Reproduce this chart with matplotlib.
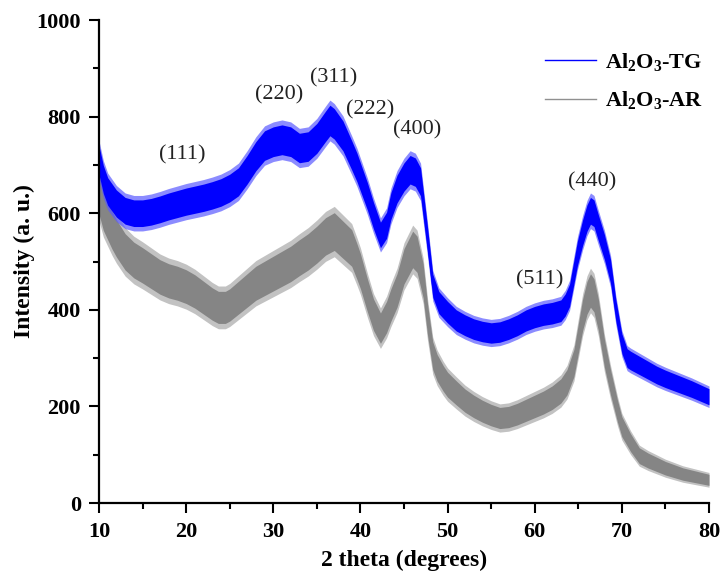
import numpy as np
import matplotlib
matplotlib.use('Agg')
import matplotlib.pyplot as plt
from matplotlib.lines import Line2D

plt.rcParams['font.family'] = ['Liberation Serif', 'DejaVu Serif']
plt.rcParams['mathtext.fontset'] = 'custom'
plt.rcParams['mathtext.rm'] = 'Liberation Serif:bold'
plt.rcParams['mathtext.default'] = 'rm'

# Al2O3-TG (blue), mean of the noisy trace
tg_x = [10, 10.5, 11, 12, 13, 14, 15, 16, 17, 18, 19, 20, 21, 22, 23, 24, 25, 26, 27, 28,
        29, 30, 31, 32, 33, 34, 35, 36, 36.5, 37, 38, 39, 39.6, 40.8, 41.5, 42.3, 43, 43.5,
        44.2, 45, 45.7, 46.3, 46.9, 47.7, 48.3, 49, 50, 51, 52, 53, 54, 55, 56, 57, 58, 59,
        60, 61, 62, 63, 63.5, 64, 64.9, 65.5, 66, 66.4, 66.8, 67.3, 68, 68.7, 69.3, 70, 70.6,
        71, 72, 73, 74, 75, 76, 77, 78, 79, 80]
tg_y = [710, 670, 645, 620, 605, 600, 600, 603, 608, 614, 619, 624, 628, 632, 637, 643, 652, 665, 690, 718,
        740, 748, 752, 748, 735, 738, 755, 780, 792, 785, 760, 720, 695, 635, 595, 555, 575, 615,
        650, 675, 690, 685, 665, 545, 450, 415, 395, 378, 368, 360, 355, 352, 354, 360, 368, 378,
        385, 390, 393, 398, 410, 430, 517, 560, 590, 605, 600, 570, 530, 480, 400, 330, 300,
        295, 285, 275, 265, 257, 250, 243, 236, 228, 220]

# Al2O3-AR (grey)
ar_x = [10, 10.5, 11, 11.5, 12, 13, 14, 15, 16, 17, 18, 19, 20, 21, 22, 23, 23.7, 24.5, 25, 26,
        27, 28, 29, 30, 31, 32, 33, 34, 35, 36, 37, 38, 39, 39.6, 40, 40.8, 41.5, 42.3, 43, 43.5,
        44.2, 45, 46, 46.5, 47.2, 47.7, 48.3, 48.8, 49.5, 50, 51, 52, 53, 54, 55, 56, 57, 58, 59,
        60, 61, 62, 63, 63.7, 64.5, 65, 65.5, 66, 66.4, 66.8, 67.3, 68, 68.7, 69.5, 70, 71, 72,
        73, 74, 75, 76, 77, 78, 79, 80]
ar_y = [640, 605, 585, 565, 548, 520, 503, 492, 480, 468, 460, 455, 448, 438, 425, 412, 405, 405, 410, 425,
        440, 455, 465, 475, 485, 495, 508, 520, 535, 552, 562, 545, 528, 500, 480, 430, 390, 362, 385, 410,
        440, 490, 525, 515, 460, 380, 305, 280, 258, 245, 228, 212, 200, 190, 182, 176, 178, 184, 192,
        200, 208, 218, 232, 250, 290, 340, 390, 425, 440, 430, 390, 310, 250, 190, 158, 125, 98,
        88, 80, 72, 66, 60, 56, 52, 48]

# noise level of each trace (counting noise, grows with sqrt of intensity)
tg_noise = 1.5
ar_noise = 2.2

hkl_labels = ['(111)', '(220)', '(311)', '(222)', '(400)', '(440)', '(511)']
hkl_x = [19.5, 30.7, 36.9, 41.1, 46.5, 66.6, 60.6]
hkl_y = [720, 845, 880, 814, 772, 665, 462]

fig = plt.figure(figsize=(7.22, 5.75), dpi=100)
ax = fig.add_axes([0.1371, 0.1252, 0.8449, 0.84])


def trace(x, y, k, col, fringe):
    x = np.array(x, dtype=float)
    y = np.array(y, dtype=float)
    s = k * np.sqrt(y)
    ax.fill_between(x, y - s, y + s, color=fringe, lw=0, alpha=0.7)
    ax.fill_between(x, y - 0.75 * s, y + 0.75 * s, color=col, lw=0)
    ax.plot(x, y, color=col, lw=1)


trace(ar_x, ar_y, ar_noise, '#858585', '#a8a8a8')
trace(tg_x, tg_y, tg_noise, '#0000ff', '#5a5aff')

for lab, hx, hy in zip(hkl_labels, hkl_x, hkl_y):
    ax.text(hx, hy, lab, ha='center', va='center', fontsize=16, color='#222222')

ax.set_xlim(10, 80)
ax.set_ylim(0, 1000)
ax.set_xticks(np.arange(10, 81, 10))
ax.set_xticks(np.arange(15, 80, 10), minor=True)
ax.set_yticks(np.arange(0, 1001, 200))
ax.set_yticks(np.arange(100, 1000, 200), minor=True)
ax.tick_params(which='major', direction='out', length=7, width=1.5, labelsize=16)
ax.tick_params(which='minor', direction='out', length=4, width=1.5)
ax.tick_params(axis='x', which='major', pad=7)
ax.tick_params(axis='y', which='major', pad=6)
for lab in ax.get_xticklabels() + ax.get_yticklabels():
    lab.set_fontweight('bold')
ax.spines['top'].set_visible(False)
ax.spines['right'].set_visible(False)
ax.spines['left'].set_linewidth(1.6)
ax.spines['bottom'].set_linewidth(1.6)

ax.set_xlabel('2 theta (degrees)', fontsize=17, fontweight='bold', labelpad=5)
ax.set_ylabel('Intensity (a. u.)', fontsize=17, fontweight='bold', labelpad=1)

handles = [Line2D([], [], color='#0000ff', lw=1), Line2D([], [], color='#909090', lw=1)]
ax.legend(handles, ['Al$_2$O$_3$-TG', 'Al$_2$O$_3$-AR'], loc='upper left',
          bbox_to_anchor=(0.716, 0.955), borderaxespad=0, frameon=False,
          handlelength=2.3, handletextpad=0.4, labelspacing=0.75,
          prop={'family': 'Liberation Serif', 'weight': 'bold', 'size': 16})

fig.savefig('out.png', dpi=100)
